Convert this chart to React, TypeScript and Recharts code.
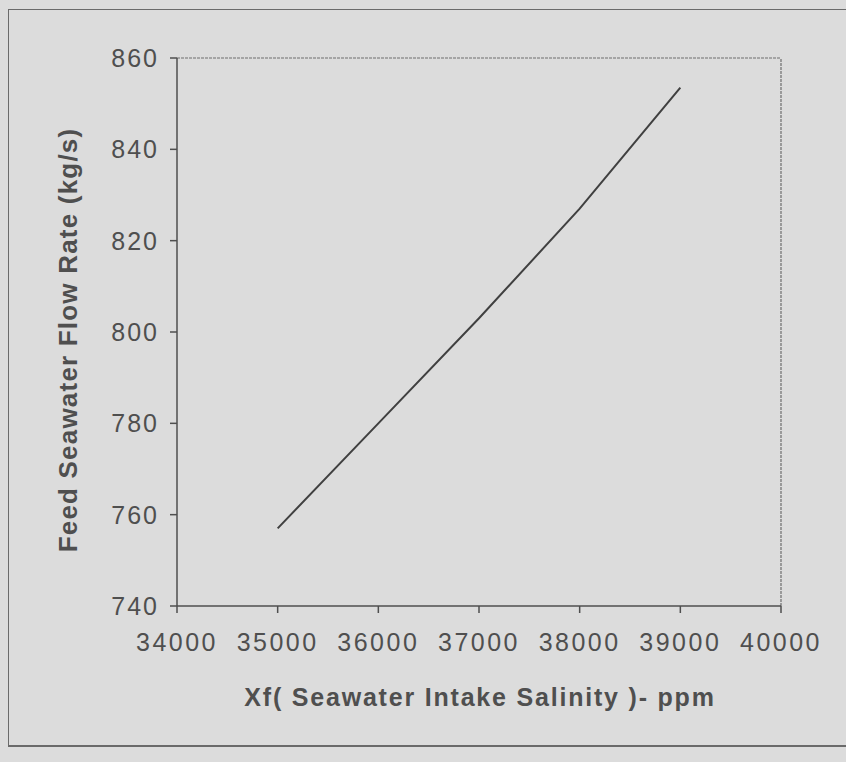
import React from 'react';
import { LineChart, Line, XAxis, YAxis, ReferenceLine, Label } from 'recharts';

// values
const salinity = [35000, 36000, 37000, 38000, 39000];
const flowRate = [757, 780, 803, 827, 853.5];
const xTicks = [34000, 35000, 36000, 37000, 38000, 39000, 40000];
const yTicks = [740, 760, 780, 800, 820, 840, 860];

const xTitle = 'Xf( Seawater Intake Salinity )- ppm';
const yTitle = 'Feed Seawater Flow Rate (kg/s)';

const data = salinity.map((x, i) => ({ x, flow: flowRate[i] }));

const INK = '#4f4f4f';
const FONT = '"Liberation Sans", Arial, sans-serif';

export default function App() {
  return (
    <div style={{ position: 'fixed', left: 0, top: 0, width: 846, height: 762, background: '#dcdcdc' }}>
      {/* scanned frame round the figure */}
      <div
        style={{
          position: 'absolute',
          left: 8,
          top: 9,
          width: 850,
          height: 735,
          borderLeft: '1.5px solid #6a6a6a',
          borderTop: '1.5px solid #6a6a6a',
          borderBottom: '2px solid #6a6a6a',
        }}
      />
      <LineChart
        width={846}
        height={762}
        data={data}
        margin={{ top: 58, right: 65, left: 117, bottom: 96 }}
        style={{ position: 'absolute', left: 0, top: 0, fontFamily: FONT }}
      >
        <XAxis
          type="number"
          dataKey="x"
          domain={[34000, 40000]}
          ticks={xTicks}
          allowDataOverflow
          height={60}
          stroke={INK}
          strokeWidth={1.5}
          tickSize={7}
          tickMargin={20}
          tick={{ fill: INK, fontSize: 25, letterSpacing: 2.5 }}
        >
          <Label
            content={() => (
              <text
                x={480}
                y={706}
                textAnchor="middle"
                fill={INK}
                fontSize={25}
                fontWeight="bold"
                letterSpacing={1.8}
                style={{ fontFamily: FONT }}
              >
                {xTitle}
              </text>
            )}
          />
        </XAxis>
        <YAxis
          type="number"
          domain={[740, 860]}
          ticks={yTicks}
          allowDataOverflow
          width={60}
          stroke={INK}
          strokeWidth={1.5}
          tickSize={7}
          tickMargin={11}
          tick={{ fill: INK, fontSize: 25, letterSpacing: 2 }}
        >
          <Label
            content={() => (
              <text
                x={77}
                y={340}
                transform="rotate(-90, 77, 340)"
                textAnchor="middle"
                fill={INK}
                fontSize={26}
                fontWeight="bold"
                letterSpacing={1.2}
                style={{ fontFamily: FONT }}
              >
                {yTitle}
              </text>
            )}
          />
        </YAxis>
        {/* dotted top and right edges of the plot area */}
        <ReferenceLine y={860} stroke="#6e6e6e" strokeWidth={1.2} strokeDasharray="3 1" />
        <ReferenceLine x={40000} stroke="#6e6e6e" strokeWidth={1.2} strokeDasharray="3 1" />
        <Line
          type="linear"
          dataKey="flow"
          stroke="#404040"
          strokeWidth={2}
          dot={false}
          isAnimationActive={false}
        />
      </LineChart>
    </div>
  );
}
